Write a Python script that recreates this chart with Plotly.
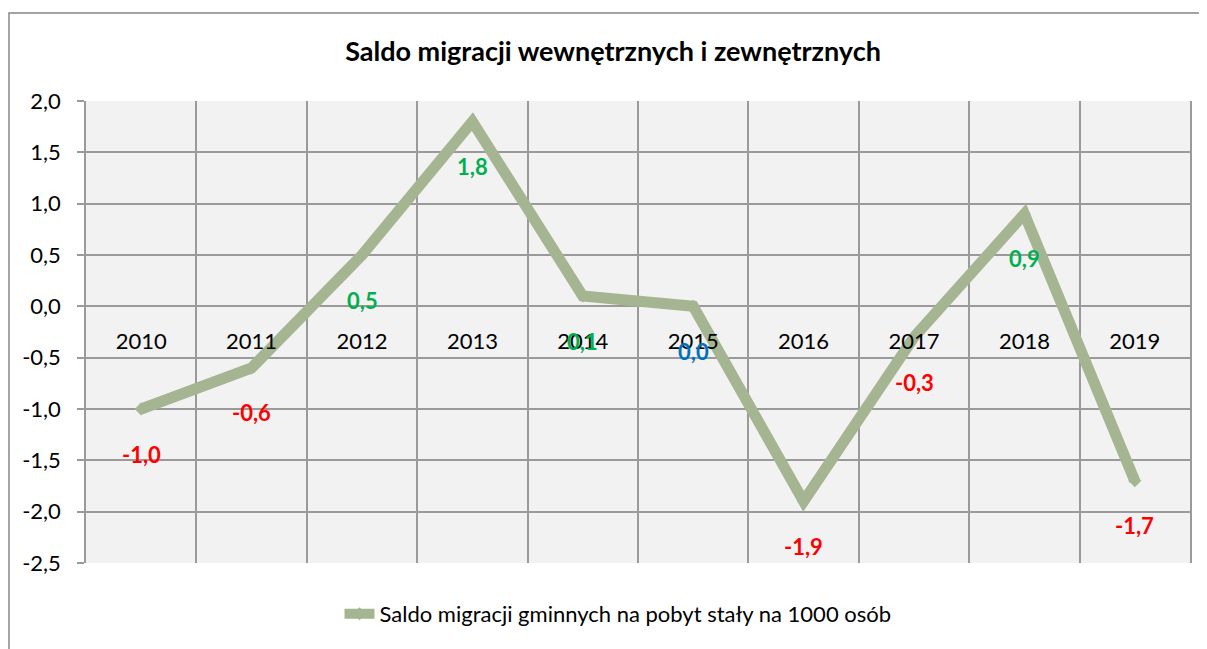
import plotly.graph_objects as go

years = ["2010", "2011", "2012", "2013", "2014", "2015", "2016", "2017", "2018", "2019"]
values = [-1.0, -0.6, 0.5, 1.8, 0.1, 0.0, -1.9, -0.3, 0.9, -1.7]
series_name = "Saldo migracji gminnych na pobyt stały na 1000 osób"
title_text = "Saldo migracji wewnętrznych i zewnętrznych"
y_ticks = [2.0, 1.5, 1.0, 0.5, 0.0, -0.5, -1.0, -1.5, -2.0, -2.5]

LINE_COLOR = "#a5b592"
GRID = "#9a9a9a"
FONT = "Lato"

def label_color(v):
    if v > 0:
        return "#00b050"
    if v < 0:
        return "#ff0000"
    return "#0070c0"

def fmt(v):
    return f"{v:.1f}".replace(".", ",")

# page body adds an 8px offset; compensate
OFF = 8
W, H = 1207 - OFF, 649 - OFF
ml, mt = 86 - OFF, 101 - OFF
pw, ph = 1104, 462
mr = W - ml - pw
mb = H - mt - ph
ymin, ymax = -2.5, 2.0
zero_pos = (0 - ymin) / (ymax - ymin)

fig = go.Figure()
fig.add_trace(go.Scatter(
    x=years, y=values, mode="lines+markers", name=series_name,
    line=dict(color=LINE_COLOR, width=11),
    marker=dict(symbol="diamond", size=10, color=LINE_COLOR),
    hoverinfo="skip",
))

annotations = []
for i, v in enumerate(values):
    annotations.append(dict(x=i, y=v, xref="x", yref="y", text=f"<b>{fmt(v)}</b>", showarrow=False,
                            yshift=-45, font=dict(family=FONT, size=22, color=label_color(v))))

# outer chart frame (pixel 8,13 in the page)
shapes = [dict(type="rect", xref="paper", yref="paper",
               x0=(1 - ml) / pw, x1=(W + 20 - ml) / pw,
               y0=(mt + ph - (H + 20)) / ph, y1=(mt + ph - (13 - OFF)) / ph,
               line=dict(color="#868686", width=1.5), fillcolor="rgba(0,0,0,0)", layer="below")]

fig.update_layout(
    width=W, height=H,
    margin=dict(l=ml, r=mr, t=mt, b=mb),
    paper_bgcolor="white", plot_bgcolor="#f2f2f2",
    font=dict(family=FONT, size=22, color="black"),
    title=dict(text=f"<b>{title_text}</b>", x=(613 - OFF - ml) / pw, xref="paper", xanchor="center",
               y=1 - (52 - OFF) / H, yanchor="middle",
               font=dict(family=FONT, size=27, color="black")),
    showlegend=True,
    legend=dict(orientation="h", x=(618 - OFF - ml) / pw, xanchor="center",
                y=(mt + ph - (614 - OFF)) / ph, yanchor="middle",
                font=dict(family=FONT, size=22, color="black"), bgcolor="rgba(0,0,0,0)"),
    annotations=annotations,
    shapes=shapes,
    xaxis=dict(type="category", categoryorder="array", categoryarray=years,
               tickson="boundaries", showgrid=True, gridcolor=GRID, gridwidth=1.5,
               ticks="", ticklabelstandoff=20,
               anchor="free", position=zero_pos, showline=False, zeroline=False,
               range=[-0.5, len(years) - 0.5], tickfont=dict(family=FONT, size=22)),
    yaxis=dict(range=[ymin, ymax], tickvals=y_ticks, ticktext=[fmt(t) for t in y_ticks],
               showgrid=True, gridcolor=GRID, gridwidth=1.5, zeroline=True, zerolinecolor=GRID,
               zerolinewidth=1.5, ticks="outside", ticklen=7, tickcolor=GRID, tickwidth=1.5,
               ticklabelstandoff=12, showline=True, linecolor=GRID, linewidth=1.5, mirror=True,
               tickfont=dict(family=FONT, size=22)),
)

fig.write_html("out.html")
